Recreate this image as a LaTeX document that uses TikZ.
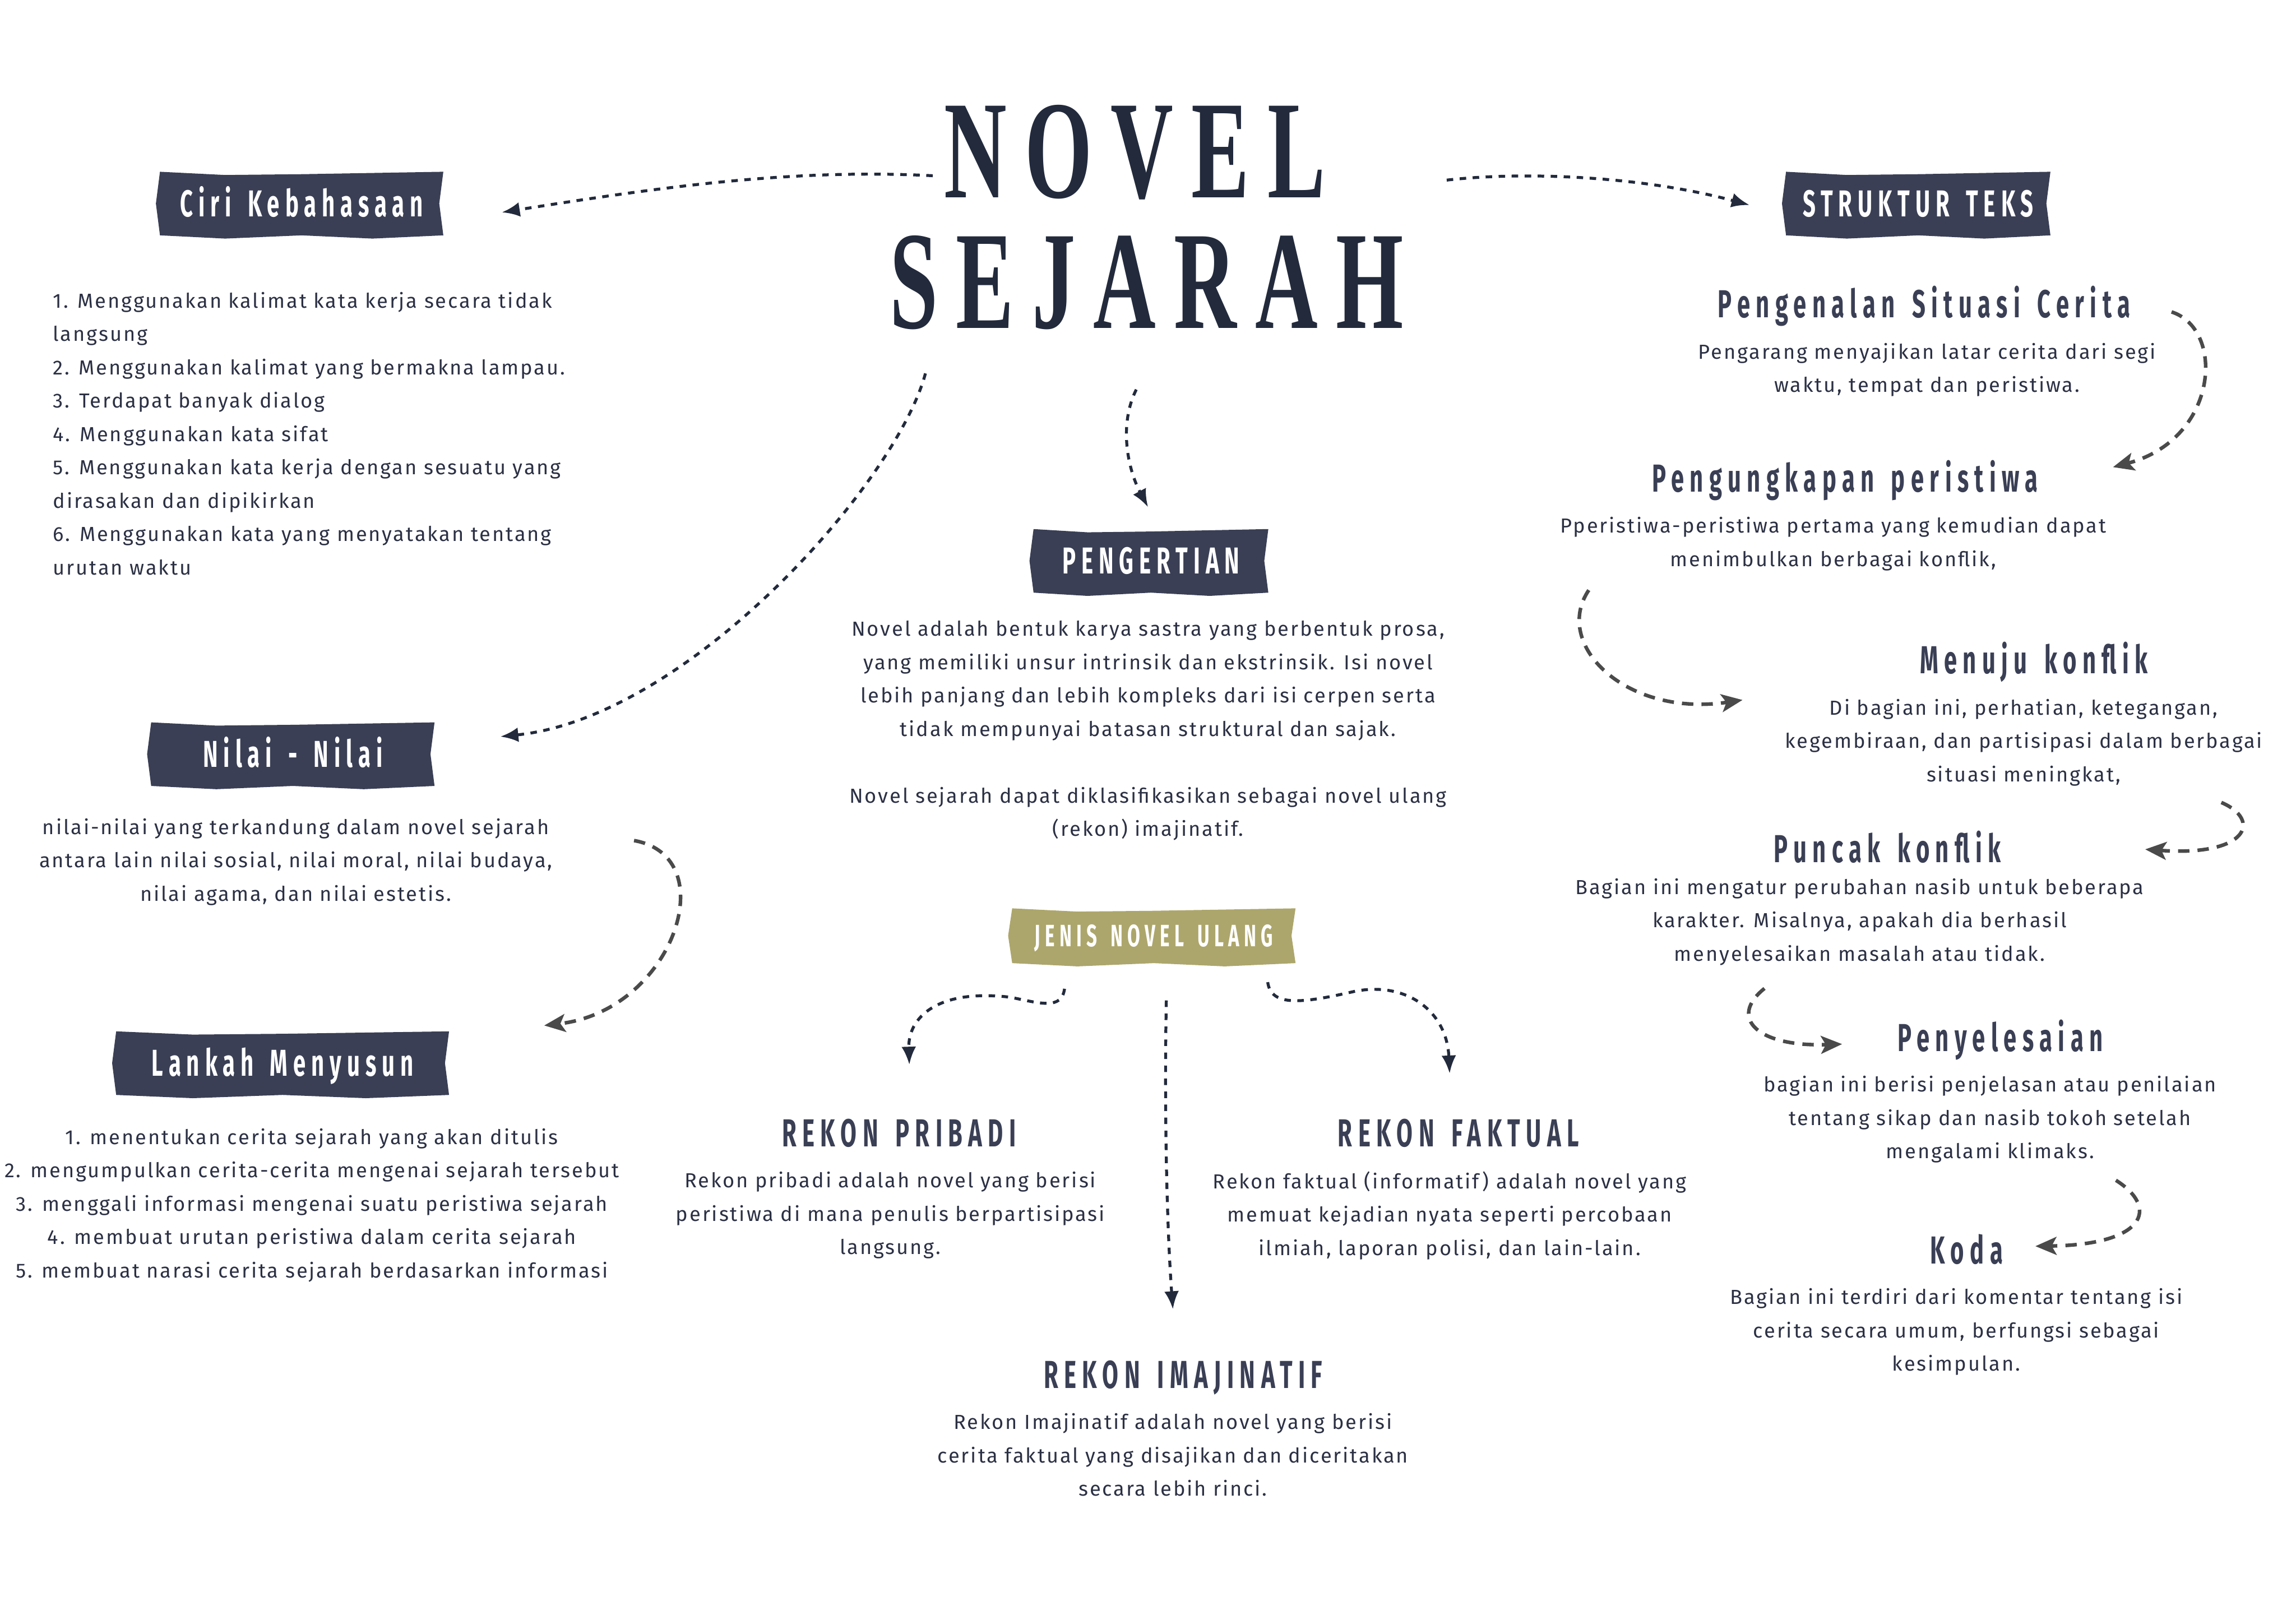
\documentclass[tikz,border=0pt]{standalone}
\usepackage{fontspec}
\usepackage{xcolor}
\usetikzlibrary{arrows.meta,calc,backgrounds}
\setmainfont{Fira Sans}
\newfontfamily\bodyfont[LetterSpace=8]{Fira Sans}
\newfontfamily\headfont[FakeStretch=0.6,LetterSpace=15,WordSpace=1.5]{Fira Sans}
\newfontfamily\titlefont[FakeStretch=0.62,LetterSpace=13]{Liberation Serif}
\definecolor{ink}{HTML}{2B3044}
\definecolor{slate}{HTML}{3A3F55}
\definecolor{olive}{HTML}{ADA66C}
\definecolor{navy}{HTML}{222A3C}
\definecolor{ash}{HTML}{4A4A4A}

% torn paper label behind a node
\newcommand\tear[2]{%
  \fill[#2] (#1.north west)
    -- ($(#1.north west)!.23!(#1.north east)+(0pt,-2pt)$)
    -- ($(#1.north west)!.5!(#1.north east)+(0pt,-1.5pt)$)
    -- (#1.north east)
    -- ($(#1.east)+(-2.5pt,0pt)$)
    -- (#1.south east)
    -- ($(#1.south west)!.75!(#1.south east)+(0pt,-2pt)$)
    -- ($(#1.south west)!.5!(#1.south east)$)
    -- ($(#1.south west)!.23!(#1.south east)+(0pt,-2pt)$)
    -- (#1.south west)
    -- ($(#1.west)+(-2.5pt,0pt)$) -- cycle;}

\begin{document}
\begin{tikzpicture}[x=0.03164cm,y=-0.03164cm,
  titletext/.style={font=\titlefont\bfseries\fontsize{86}{86}\selectfont,text=navy,inner sep=0pt},
  tagbox/.style={text=white,font=\headfont\bfseries\fontsize{23}{23}\selectfont,
    minimum height=1.36cm,inner sep=0pt,text height=16pt,text depth=0pt},
  headline/.style={font=\headfont\bfseries\fontsize{24}{24}\selectfont,text=slate,anchor=base,inner sep=0pt},
  bodytext/.style={font=\bodyfont\fontsize{12.5}{20.5}\selectfont,text=ink,align=center,inner sep=0pt},
  darrow/.style={draw=navy,line width=1.8pt,dash pattern=on 4pt off 4pt,-{Latex[length=11pt,width=9pt]}},
  garrow/.style={draw=ash,line width=2.2pt,dash pattern=on 7pt off 5pt,-{Stealth[length=13pt,width=11pt,inset=3pt]}}]
\useasboundingbox (0,0) rectangle (1568,1109);

% title
\node[titletext] (novel) at (775,104) {NOVEL};
\node[titletext] (sejarah) at (783,193) {SEJARAH};

% labels
\node[tagbox,minimum width=6.11cm] (ciri) at (206,139) {Ciri Kebahasaan};
\node[tagbox,minimum width=5.70cm] (struktur) at (1310,139) {STRUKTUR TEKS};
\node[tagbox,minimum width=5.06cm] (pengertian) at (786,383) {PENGERTIAN};
\node[tagbox,minimum width=6.11cm] (nilai) at (200,515) {Nilai - Nilai};
\node[tagbox,minimum width=7.18cm] (langkah) at (193,726) {Lankah Menyusun};
\node[tagbox,minimum width=6.11cm,minimum height=1.17cm,font=\headfont\bfseries\fontsize{19}{19}\selectfont,text height=13pt] (jenis) at (788,639) {JENIS NOVEL ULANG};

% left column
\node[bodytext,align=left,anchor=west] (ciriText) at (36,296) {1. Menggunakan kalimat kata kerja secara tidak\\langsung\\2. Menggunakan kalimat yang bermakna lampau.\\3. Terdapat banyak dialog\\4. Menggunakan kata sifat\\5. Menggunakan kata kerja dengan sesuatu yang\\dirasakan dan dipikirkan\\6. Menggunakan kata yang menyatakan tentang\\urutan waktu};
\node[bodytext] (nilaiText) at (202,588.5) {nilai-nilai yang terkandung dalam novel sejarah\\antara lain nilai sosial, nilai moral, nilai budaya,\\nilai agama, dan nilai estetis.};
\node[bodytext] (langkahText) at (213,823) {1. menentukan cerita sejarah yang akan ditulis\\2. mengumpulkan cerita-cerita mengenai sejarah tersebut\\3. menggali informasi mengenai suatu peristiwa sejarah\\4. membuat urutan peristiwa dalam cerita sejarah\\5. membuat narasi cerita sejarah berdasarkan informasi};

% middle column
\node[bodytext] (pengertianText) at (784,499) {Novel adalah bentuk karya sastra yang berbentuk prosa,\\yang memiliki unsur intrinsik dan ekstrinsik. Isi novel\\lebih panjang dan lebih kompleks dari isi cerpen serta\\tidak mempunyai batasan struktural dan sajak.\\[20.5pt]Novel sejarah dapat diklasifikasikan sebagai novel ulang\\(rekon) imajinatif.};
\node[headline] (pribadi) at (614,783) {REKON PRIBADI};
\node[bodytext] (pribadiText) at (608,830) {Rekon pribadi adalah novel yang berisi\\peristiwa di mana penulis berpartisipasi\\langsung.};
\node[headline] (faktual) at (996,783) {REKON FAKTUAL};
\node[bodytext] (faktualText) at (990,830) {Rekon faktual (informatif) adalah novel yang\\memuat kejadian nyata seperti percobaan\\ilmiah, laporan polisi, dan lain-lain.};
\node[headline] (imajinatif) at (808,948) {REKON IMAJINATIF};
\node[bodytext] (imajinatifText) at (801,993.5) {Rekon Imajinatif adalah novel yang berisi\\cerita faktual yang disajikan dan diceritakan\\secara lebih rinci.};

% right column
\node[headline] (situasi) at (1314,217) {Pengenalan Situasi Cerita};
\node[bodytext] (situasiText) at (1316,252.5) {Pengarang menyajikan latar cerita dari segi\\waktu, tempat dan peristiwa.};
\node[headline] (ungkap) at (1260,336) {Pengungkapan peristiwa};
\node[bodytext] (ungkapText) at (1252,371.5) {Pperistiwa-peristiwa pertama yang kemudian dapat\\menimbulkan berbagai konflik,};
\node[headline] (menuju) at (1389,460) {Menuju konflik};
\node[bodytext] (menujuText) at (1382,507) {Di bagian ini, perhatian, ketegangan,\\kegembiraan, dan partisipasi dalam berbagai\\situasi meningkat,};
\node[headline] (puncak) at (1289,589) {Puncak konflik};
\node[bodytext] (puncakText) at (1270,629.5) {Bagian ini mengatur perubahan nasib untuk beberapa\\karakter. Misalnya, apakah dia berhasil\\menyelesaikan masalah atau tidak.};
\node[headline] (selesai) at (1366,718) {Penyelesaian};
\node[bodytext] (selesaiText) at (1359,764.5) {bagian ini berisi penjelasan atau penilaian\\tentang sikap dan nasib tokoh setelah\\mengalami klimaks.};
\node[headline] (koda) at (1343,863) {Koda};
\node[bodytext] (kodaText) at (1336,909.5) {Bagian ini terdiri dari komentar tentang isi\\cerita secara umum, berfungsi sebagai\\kesimpulan.};

% arrows from the title
\draw[darrow] ([shift={(-138,16)}]novel.center) .. controls (540,115) and (450,128) .. ([shift={(40,6)}]ciri.east);
\draw[darrow] ([shift={(213,19)}]novel.center) .. controls (1040,117) and (1120,120) .. ([shift={(-25,1)}]struktur.west);
\draw[darrow] ([shift={(-151,62)}]sejarah.center) .. controls (612,330) and (470,490) .. ([shift={(45,-12)}]nilai.east);
\draw[darrow] ([shift={(-7,73)}]sejarah.center) .. controls (764,290) and (770,320) .. ([shift={(-2,-15)}]pengertian.north);
\draw[garrow] ([shift={(231,-14.5)}]nilaiText.center) .. controls (495,585) and (460,690) .. ([shift={(65,-4)}]langkah.north east);

% arrows from jenis novel ulang
\draw[darrow] ([shift={(-61,17.5)}]jenis.south) .. controls (725,690) and (710,685) .. (690,681)
  .. controls (640,675) and (620,695) .. ([shift={(7,-56)}]pribadi.base);
\draw[darrow] ([shift={(8.5,25.5)}]jenis.south) .. controls (795,760) and (797,840) .. ([shift={(-7,-54)}]imajinatif.base);
\draw[darrow] ([shift={(-19,13)}]jenis.south east) .. controls (868,688) and (890,685) .. (925,677)
  .. controls (960,670) and (988,690) .. ([shift={(-6,-50)}]faktual.base);

% arrows along the structure
\draw[garrow] ([shift={(169,-4)}]situasi.base) .. controls (1520,225) and (1515,300) .. ([shift={(183,-17)}]ungkap.base);
\draw[garrow] ([shift={(-167,31.5)}]ungkapText.center) .. controls (1060,440) and (1110,490) .. ([shift={(-199,18)}]menuju.base);
\draw[garrow] ([shift={(135,41)}]menujuText.center) .. controls (1545,560) and (1535,585) .. ([shift={(176,-9)}]puncak.base);
\draw[garrow] ([shift={(-65,45.5)}]puncakText.center) .. controls (1180,695) and (1200,715) .. ([shift={(-108,-5)}]selesai.base);
\draw[garrow] ([shift={(86,41.5)}]selesaiText.center) .. controls (1475,825) and (1465,850) .. ([shift={(47,-12)}]koda.base);

\begin{scope}[on background layer]
\fill[white] (0,0) rectangle (1568,1109);
\tear{ciri}{slate}
\tear{struktur}{slate}
\tear{pengertian}{slate}
\tear{nilai}{slate}
\tear{langkah}{slate}
\tear{jenis}{olive}
\end{scope}
\end{tikzpicture}
\end{document}
